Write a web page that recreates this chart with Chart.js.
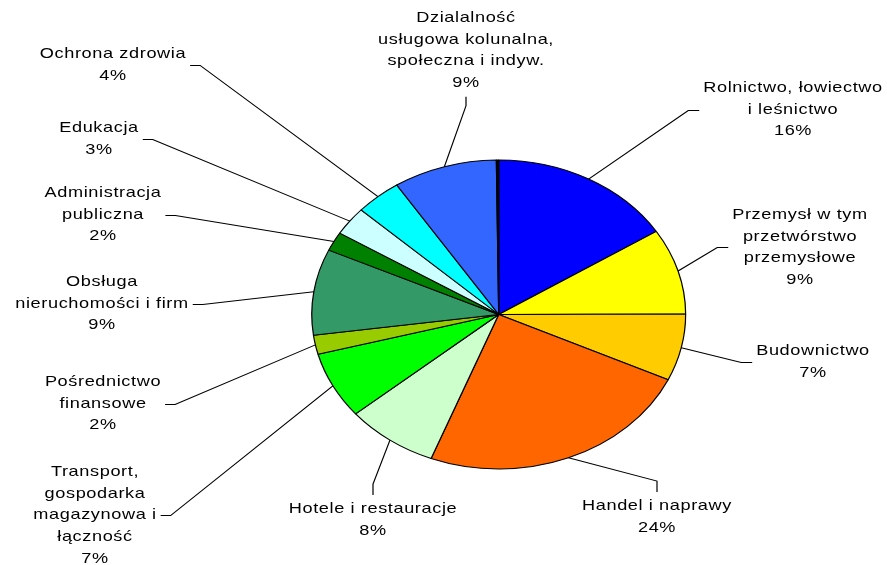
<!DOCTYPE html>
<html>
<head>
<meta charset="utf-8">
<script src="https://cdn.jsdelivr.net/npm/chart.js@4"></script>
<style>
    html, body { margin: 0; padding: 0; background: #fff; }
</style>
</head>
<body>
<canvas id="pie" width="887" height="565"></canvas>
<script>
// data
const categories = [
    ["Rolnictwo, łowiectwo", "i leśnictwo"],
    ["Przemysł w tym", "przetwórstwo", "przemysłowe"],
    ["Budownictwo"],
    ["Handel i naprawy"],
    ["Hotele i restauracje"],
    ["Transport,", "gospodarka", "magazynowa i", "łączność"],
    ["Pośrednictwo", "finansowe"],
    ["Obsługa", "nieruchomości i firm"],
    ["Administracja", "publiczna"],
    ["Edukacja"],
    ["Ochrona zdrowia"],
    ["Dzialalność", "usługowa kolunalna,", "społeczna i indyw."],
    [""]
];
const shares = [16, 9, 7, 24, 8, 7, 2, 9, 2, 3, 4, 9, 0.2];
const sliceColors = [
    "#0000FF", "#FFFF00", "#FFCC00", "#FF6600", "#CCFFCC", "#00FF00",
    "#99CC00", "#339966", "#008000", "#CCFFFF", "#00FFFF", "#3366FF", "#000000"
];

// layout: label centre x, first line y (page px), side the leader joins
const labelPos = [
    [793, 88, "l"], [800, 215, "l"], [813, 351, "l"], [657, 506, "t"],
    [373, 509, "t"], [95, 472, "r"], [103, 382, "r"], [102, 282, "r"],
    [103, 193, "r"], [99, 128, "r"], [113, 54, "r"], [466, 18, "b"], null
];

const SX = 1.21;      // the picture is stretched horizontally
const LINE_H = 21.6;

function drawLabels(chart) {
    const ctx = chart.ctx;
    const arcs = chart.getDatasetMeta(0).data;
    const total = shares.reduce((a, b) => a + b, 0);

    ctx.font = '15px "Liberation Sans", Arial, sans-serif';
    ctx.letterSpacing = "0.5px";
    ctx.fillStyle = "#000";
    ctx.strokeStyle = "#000";
    ctx.lineWidth = 1;
    ctx.textAlign = "center";
    ctx.textBaseline = "middle";

    arcs.forEach((arc, i) => {
        const pos = labelPos[i];
        if (!pos) {
            return;
        }
        const lines = categories[i].concat(Math.round(shares[i] / total * 100) + "%");
        const cx = pos[0] / SX;
        const top = pos[1];
        const last = top + (lines.length - 1) * LINE_H;
        const midY = Math.round((top + last) / 2) + 0.5;
        const w = Math.max(...lines.map((t) => ctx.measureText(t).width));
        let end;
        let elbow;

        if (pos[2] === "l") {
            end = [cx - w / 2 - 4 / SX, midY];
            elbow = [end[0] - 11 / SX, midY];
        }
        else if (pos[2] === "r") {
            end = [cx + w / 2 + 4 / SX, midY];
            elbow = [end[0] + 10 / SX, midY];
        }
        else if (pos[2] === "t") {
            end = [cx, top - 14];
            elbow = [cx, top - 25];
        }
        else {
            end = [cx, last + 14];
            elbow = [cx, last + 23];
        }

        const mid = (arc.startAngle + arc.endAngle) / 2;
        const sx = arc.x + arc.outerRadius * Math.cos(mid);
        const sy = arc.y + arc.outerRadius * Math.sin(mid);

        ctx.beginPath();
        ctx.moveTo(sx, sy);
        ctx.lineTo(elbow[0], elbow[1]);
        ctx.lineTo(end[0], end[1]);
        ctx.stroke();

        lines.forEach((t, k) => ctx.fillText(t, cx, top + k * LINE_H));
    });
}

const stretchPlugin = {
    id: "stretch",
    beforeDraw(chart) {
        chart.ctx.save();
        chart.ctx.scale(SX, 1);
    },
    afterDraw(chart) {
        drawLabels(chart);
        chart.ctx.restore();
    }
};

// pie centre (498.7, 314.5) on the page, radius 154.5 before stretching
const cxV = 498.7 / SX;

new Chart(document.getElementById("pie"), {
    type: "pie",
    data: {
        labels: categories,
        datasets: [{
            data: shares,
            backgroundColor: sliceColors,
            borderColor: "#000",
            borderWidth: 1
        }]
    },
    options: {
        responsive: false,
        animation: false,
        devicePixelRatio: 1,
        events: [],
        layout: {
            padding: {
                left: cxV - 155,
                right: 887 - (cxV + 155),
                top: 159.5,
                bottom: 95.5
            }
        },
        plugins: {
            legend: { display: false },
            tooltip: { enabled: false }
        }
    },
    plugins: [stretchPlugin]
});
</script>
</body>
</html>
